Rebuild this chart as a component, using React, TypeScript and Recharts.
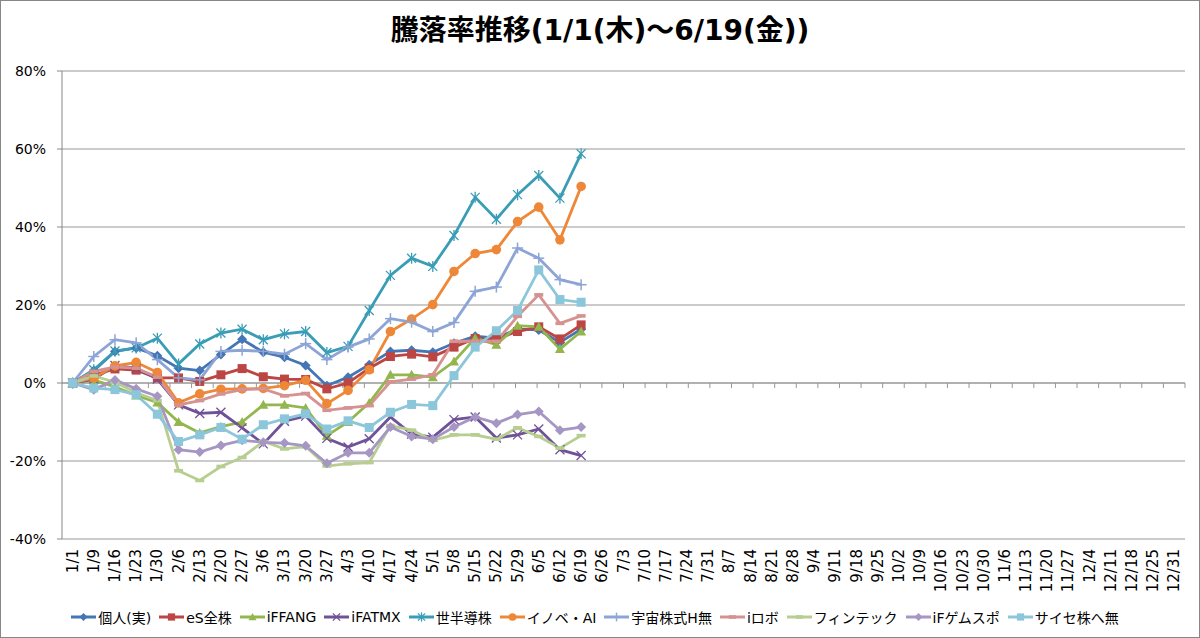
import React from 'react';
import { LineChart, Line, XAxis, YAxis, CartesianGrid, ReferenceLine, Legend } from 'recharts';

const categories = [
  '1/1', '1/9', '1/16', '1/23', '1/30', '2/6', '2/13', '2/20', '2/27', '3/6', '3/13', '3/20', '3/27',
  '4/3', '4/10', '4/17', '4/24', '5/1', '5/8', '5/15', '5/22', '5/29', '6/5', '6/12', '6/19', '6/26',
  '7/3', '7/10', '7/17', '7/24', '7/31', '8/7', '8/14', '8/21', '8/28', '9/4', '9/11', '9/18', '9/25',
  '10/2', '10/9', '10/16', '10/23', '10/30', '11/6', '11/13', '11/20', '11/27', '12/4', '12/11',
  '12/18', '12/25', '12/31',
];

const seriesNames = [
  '個人(実)', 'eS全株', 'iFFANG', 'iFATMX', '世半導株', 'イノベ・AI',
  '宇宙株式H無', 'iロボ', 'フィンテック', 'iFゲムスポ', 'サイセ株へ無',
];

const kojin = [0, 3.2, 8.1, 9.0, 7.0, 3.8, 3.2, 7.3, 11.2, 7.9, 6.6, 4.5, -0.7, 1.5, 4.7, 8.1, 8.4, 7.9, 10.2, 12.0, 11.5, 13.8, 13.6, 10.4, 13.8];
const esZenkabu = [0, 2.0, 3.6, 3.3, 1.3, 1.3, 0.4, 2.1, 3.7, 1.6, 1.0, 0.9, -1.5, 0, 3.8, 6.8, 7.4, 6.7, 9.2, 11.4, 11.3, 13.2, 14.4, 11.3, 14.9];
const ifFang = [0, 0.8, -1.0, -3.2, -5.0, -10.0, -12.8, -11.2, -10.0, -5.6, -5.6, -6.4, -13.5, -10.0, -5.1, 2.1, 2.1, 1.5, 5.5, 11.5, 9.8, 14.7, 14.4, 8.7, 13.2];
const ifAtmx = [0, 1.0, 4.5, 3.8, 1.0, -5.6, -7.8, -7.5, -11.5, -15.6, -9.8, -8.5, -14.2, -16.4, -14.3, -8.7, -13.1, -13.9, -9.4, -8.7, -14.1, -13.3, -11.8, -17.1, -18.6];
const semicon = [0, 3.4, 8.2, 9.0, 11.5, 4.9, 10.0, 12.8, 13.8, 11.1, 12.6, 13.2, 7.8, 9.4, 18.6, 27.6, 32.0, 29.9, 37.8, 47.6, 42.0, 48.3, 53.2, 47.4, 58.8];
const innovAi = [0, 1.3, 4.4, 5.3, 2.7, -5.1, -2.8, -1.6, -1.5, -1.4, -0.7, 0.7, -5.3, -1.9, 3.4, 13.2, 16.4, 20.1, 28.6, 33.2, 34.2, 41.4, 45.1, 36.7, 50.4];
const space = [0, 6.8, 11.1, 10.3, 6.0, 1.3, 0.8, 8.1, 8.4, 8.1, 7.4, 10.1, 6.0, 9.2, 11.3, 16.5, 15.6, 13.2, 15.5, 23.5, 24.6, 34.6, 32.0, 26.5, 25.2];
const robo = [0, 3.0, 4.1, 3.8, 1.5, -5.6, -4.5, -2.8, -1.7, -1.5, -3.3, -2.7, -7.0, -6.4, -5.8, 0.3, 1.0, 2.1, 10.7, 10.7, 10.7, 17.1, 22.6, 15.3, 17.2];
const fintech = [0, 1.8, 0.2, -2.5, -4.5, -22.5, -25.0, -21.4, -19.1, -15.0, -16.9, -16.3, -21.3, -20.7, -20.4, -10.9, -12.1, -14.7, -13.3, -13.3, -14.4, -11.5, -13.7, -16.7, -13.5];
const gameSports = [0, -1.7, 0.8, -1.5, -3.4, -17.1, -17.7, -16.0, -14.7, -15.2, -15.4, -16.1, -20.6, -17.9, -17.9, -11.3, -13.7, -14.4, -11.3, -8.7, -10.3, -8.1, -7.3, -12.1, -11.3];
const cyberSec = [0, -1.3, -1.7, -3.0, -8.0, -15.0, -13.3, -11.4, -14.4, -10.7, -9.2, -7.9, -11.8, -9.7, -11.4, -7.5, -5.5, -5.8, 1.9, 9.2, 13.4, 18.6, 29.0, 21.4, 20.7];

const yTicks = [-40, -20, 0, 20, 40, 60, 80];

const seriesValues = [kojin, esZenkabu, ifFang, ifAtmx, semicon, innovAi, space, robo, fintech, gameSports, cyberSec];

const data = categories.map((date, i) => {
  const row: Record<string, any> = { date };
  seriesValues.forEach((vals, k) => {
    if (i < vals.length) row['s' + k] = vals[i];
  });
  return row;
});

const edgeTicks = categories.map((_, i) => i + 1);

const STYLES = [
  { color: '#4475B4', marker: 'diamond' },
  { color: '#BC4643', marker: 'square' },
  { color: '#93B64E', marker: 'triangle' },
  { color: '#6F5297', marker: 'x' },
  { color: '#3A9DB6', marker: 'star' },
  { color: '#EE8838', marker: 'circle' },
  { color: '#8DA5D6', marker: 'plus' },
  { color: '#D69290', marker: 'dash' },
  { color: '#B7CE90', marker: 'dash' },
  { color: '#A696C4', marker: 'diamond' },
  { color: '#8CC6DA', marker: 'square' },
];

const FONT = "'DejaVu Sans', 'Noto Sans CJK JP', sans-serif";
const CHART_W = 1200;
const CHART_H = 638;
const MARGIN = { top: 71, right: 15, bottom: 11, left: 0 };
const Y_W = 62;
const PLOT_W = CHART_W - MARGIN.left - MARGIN.right - Y_W;
const HALF_CAT = PLOT_W / categories.length / 2;

function Marker({ kind, cx, cy, color, s = 1 }: { kind: string; cx: number; cy: number; color: string; s?: number }) {
  switch (kind) {
    case 'diamond': {
      const r = 5 * s;
      return <polygon points={`${cx},${cy - r} ${cx + r},${cy} ${cx},${cy + r} ${cx - r},${cy}`} fill={color} />;
    }
    case 'square': {
      const h = 4.5 * s;
      return <rect x={cx - h} y={cy - h} width={2 * h} height={2 * h} fill={color} />;
    }
    case 'triangle': {
      const r = 5 * s;
      return <polygon points={`${cx},${cy - r} ${cx + r},${cy + r * 0.8} ${cx - r},${cy + r * 0.8}`} fill={color} />;
    }
    case 'circle':
      return <circle cx={cx} cy={cy} r={4.8 * s} fill={color} />;
    case 'x': {
      const r = 4.5 * s;
      return (
        <g stroke={color} strokeWidth={1.3}>
          <line x1={cx - r} y1={cy - r} x2={cx + r} y2={cy + r} />
          <line x1={cx - r} y1={cy + r} x2={cx + r} y2={cy - r} />
        </g>
      );
    }
    case 'star': {
      const r = 4.5 * s;
      return (
        <g stroke={color} strokeWidth={1.3}>
          <line x1={cx - r} y1={cy - r} x2={cx + r} y2={cy + r} />
          <line x1={cx - r} y1={cy + r} x2={cx + r} y2={cy - r} />
          <line x1={cx} y1={cy - r - 1} x2={cx} y2={cy + r + 1} />
        </g>
      );
    }
    case 'plus': {
      const r = 5.5 * s;
      return (
        <g stroke={color} strokeWidth={1.5}>
          <line x1={cx - r} y1={cy} x2={cx + r} y2={cy} />
          <line x1={cx} y1={cy - r} x2={cx} y2={cy + r} />
        </g>
      );
    }
    case 'dash':
      return <rect x={cx - 4.5 * s} y={cy - 1.8} width={9 * s} height={3.6} fill={color} />;
    default:
      return null;
  }
}

const makeDot = (k: number) => (props: any) => {
  const { cx, cy, index } = props;
  if (cx == null || cy == null || props.value == null) return <g key={`d${k}-${index}`} />;
  return (
    <g key={`d${k}-${index}`}>
      <Marker kind={STYLES[k].marker} cx={cx} cy={cy} color={STYLES[k].color} />
    </g>
  );
};

const XTick = (props: any) => {
  const { x, y, payload } = props;
  return (
    <text
      x={x}
      y={y}
      transform={`rotate(-90 ${x} ${y})`}
      textAnchor="end"
      dominantBaseline="central"
      fontFamily={FONT}
      fontSize={15}
      fill="#000"
    >
      {payload.value}
    </text>
  );
};

const LegendContent = () => (
  <div
    style={{
      display: 'flex',
      justifyContent: 'center',
      alignItems: 'center',
      height: 20,
      fontFamily: FONT,
      fontSize: 14,
      color: '#000',
      whiteSpace: 'nowrap',
    }}
  >
    {seriesNames.map((name, i) => (
      <div key={name} style={{ display: 'flex', alignItems: 'center', marginRight: i < seriesNames.length - 1 ? 8 : 0 }}>
        <svg width={25} height={14} style={{ display: 'block' }}>
          <line x1={0} y1={7} x2={25} y2={7} stroke={STYLES[i].color} strokeWidth={3} />
          <Marker kind={STYLES[i].marker} cx={12.5} cy={7} color={STYLES[i].color} s={0.8} />
        </svg>
        <span style={{ marginLeft: 2 }}>{name}</span>
      </div>
    ))}
  </div>
);

export default function App() {
  return (
    <div style={{ position: 'absolute', left: 0, top: 0, width: CHART_W, height: CHART_H, background: '#fff' }}>
      <div
        style={{
          position: 'absolute',
          left: 0,
          top: 13,
          width: CHART_W,
          height: 36,
          lineHeight: '36px',
          textAlign: 'center',
          fontFamily: FONT,
          fontWeight: 'bold',
          fontSize: 28,
          color: '#000',
        }}
      >
        騰落率推移(1/1(木)～6/19(金))
      </div>
      <LineChart width={CHART_W} height={CHART_H} data={data} margin={MARGIN}>
        <CartesianGrid horizontal vertical={false} stroke="#979797" />
        <XAxis
          dataKey="date"
          interval={0}
          padding={{ left: HALF_CAT, right: HALF_CAT }}
          axisLine={false}
          tickLine={false}
          tickSize={0}
          tickMargin={10}
          height={68}
          tick={<XTick />}
        />
        <XAxis xAxisId="edge" type="number" domain={[0, categories.length]} allowDataOverflow hide />
        <YAxis
          width={Y_W}
          domain={[-40, 80]}
          ticks={yTicks}
          interval={0}
          allowDataOverflow
          tickFormatter={(v: number) => `${v}%`}
          axisLine={{ stroke: '#888' }}
          tickLine={{ stroke: '#888' }}
          tickSize={5}
          tickMargin={11}
          tick={{ fontFamily: FONT, fontSize: 14, fill: '#000' }}
        />
        <ReferenceLine y={0} stroke="#979797" />
        {edgeTicks.map((t) => (
          <ReferenceLine
            key={`t${t}`}
            xAxisId="edge"
            segment={[{ x: t, y: 0 }, { x: t, y: -1.3 }]}
            stroke="#979797"
            ifOverflow="visible"
          />
        ))}
        {seriesNames.map((name, k) => (
          <Line
            key={name}
            name={name}
            dataKey={'s' + k}
            type="linear"
            stroke={STYLES[k].color}
            strokeWidth={2.8}
            dot={makeDot(k)}
            activeDot={false}
            isAnimationActive={false}
          />
        ))}
        <Legend
          verticalAlign="bottom"
          content={<LegendContent />}
          wrapperStyle={{ left: -5, width: CHART_W, height: 20 }}
        />
      </LineChart>
      <div
        style={{
          position: 'absolute',
          left: 0,
          top: 0,
          width: CHART_W,
          height: CHART_H,
          boxSizing: 'border-box',
          border: '1px solid #878787',
          pointerEvents: 'none',
        }}
      />
    </div>
  );
}
